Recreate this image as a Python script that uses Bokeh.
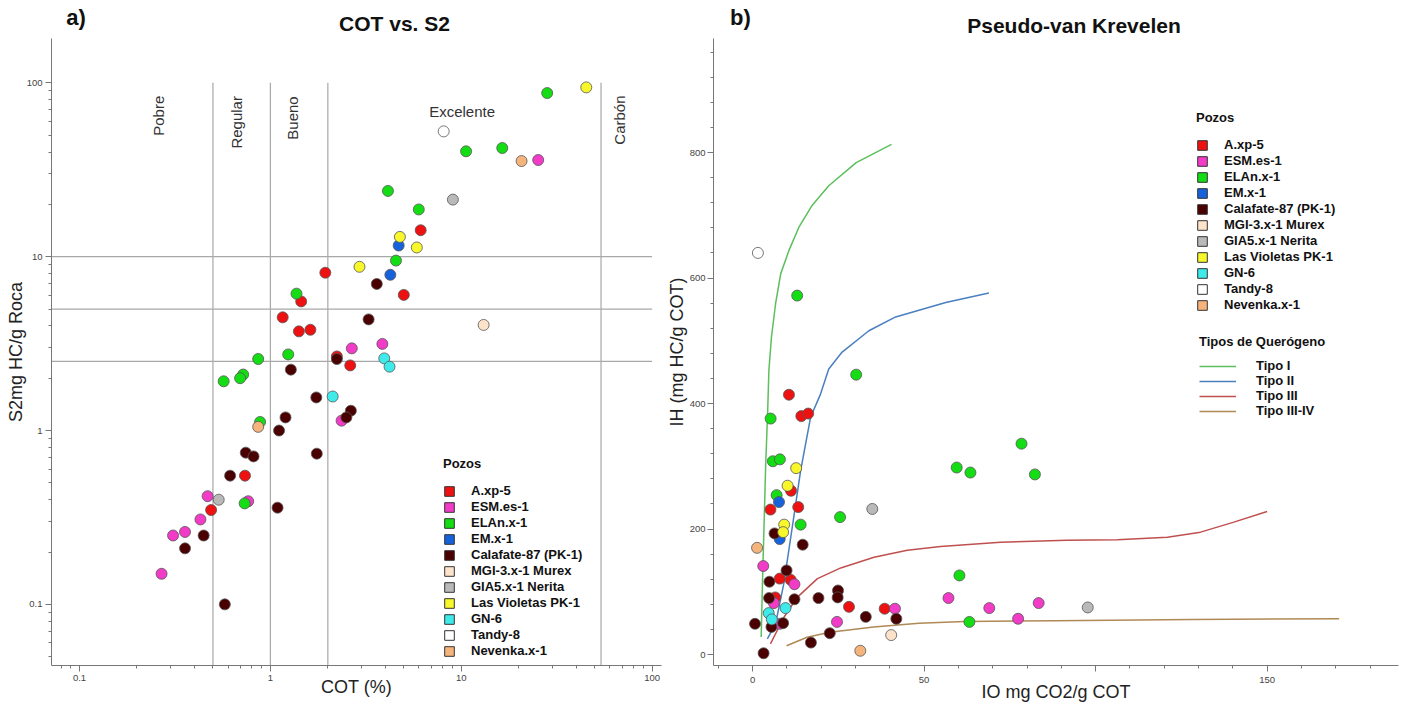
import math
from bokeh.plotting import figure
from bokeh.layouts import row, column
from bokeh.models import (Range1d, Legend, LegendItem, CustomJSTickFormatter,
                          SingleIntervalTicker)
from bokeh.embed import file_html
from bokeh.resources import INLINE
from bokeh.core.properties import value

FONT = "Liberation Sans"

# ---------------- wells (legend order) ----------------
wells = ["A.xp-5", "ESM.es-1", "ELAn.x-1", "EM.x-1", "Calafate-87 (PK-1)",
         "MGI-3.x-1 Murex", "GIA5.x-1 Nerita", "Las Violetas PK-1", "GN-6",
         "Tandy-8", "Nevenka.x-1"]
well_colors = ["#ee1111", "#f23cc8", "#14dd14", "#1662dc", "#4a0000",
               "#fde3c9", "#b9b9b9", "#f7f72c", "#3eeaea", "#ffffff", "#f5b47c"]

# ---------------- a) COT (%) vs S2 (mg HC/g roca) ----------------
cot_axp5 = [1.94, 6.13, 5.0, 1.16, 1.45, 1.41, 1.62, 2.23, 2.62, 0.736, 0.489]
s2_axp5 = [8.09, 14.2, 6.03, 4.48, 5.53, 3.72, 3.80, 2.67, 2.37, 0.55, 0.349]
cot_esm = [25.3, 3.86, 2.67, 2.36, 0.469, 0.765, 0.43, 0.357, 0.309, 0.269]
s2_esm = [36.0, 3.15, 2.97, 1.14, 0.419, 0.392, 0.308, 0.261, 0.249, 0.15]
cot_elan = [28.2, 16.4, 10.6, 4.13, 5.99, 4.55, 1.37, 1.24, 0.863, 0.72, 0.694, 0.569, 0.883, 0.733]
s2_elan = [87.4, 42.2, 40.4, 23.9, 18.7, 9.5, 6.13, 2.74, 2.58, 2.10, 2.0, 1.92, 1.12, 0.381]
cot_em = [4.7, 4.25]
s2_em = [11.6, 7.87]
cot_cal = [3.61, 3.27, 2.23, 1.28, 1.74, 2.64, 2.5, 1.2, 1.11, 0.743, 0.816, 1.75, 0.615, 1.09, 0.447, 0.357, 0.577]
s2_cal = [6.97, 4.36, 2.58, 2.24, 1.55, 1.30, 1.19, 1.19, 1.0, 0.746, 0.71, 0.736, 0.55, 0.36, 0.249, 0.21, 0.1]
cot_mgi = [13.1]
s2_mgi = [4.05]
cot_gia = [9.04, 0.536]
s2_gia = [21.3, 0.40]
cot_lv = [45.2, 4.77, 5.85, 2.93]
s2_lv = [94.2, 13.0, 11.3, 8.75]
cot_gn = [3.95, 4.21, 2.12]
s2_gn = [2.6, 2.33, 1.57]
cot_tandy = [8.09]
s2_tandy = [52.6]
cot_nev = [20.7, 0.863]
s2_nev = [35.5, 1.05]

cot_classes = [0.5, 1, 2, 54]          # limits Pobre/Regular/Bueno/Excelente/Carbón
s2_levels = [2.5, 5, 10]
class_names = ["Pobre", "Regular", "Bueno", "Excelente", "Carbón"]

# ---------------- b) Pseudo-van Krevelen: IO vs IH ----------------
io_axp5 = [10.6, 14.2, 16.2, 11.2, 13.3, 5.2, 7.9, 11.1, 6.6, 28.1, 38.5]
ih_axp5 = [414, 380, 384, 261, 235, 231, 121, 119, 91, 76, 73]
io_esm = [3.1, 12.2, 6.2, 8.0, 24.6, 41.5, 57.1, 69.0, 77.4, 83.4]
ih_esm = [141, 112, 82, 49, 52, 73, 90, 74, 57, 82]
io_elan = [13.0, 30.2, 5.25, 5.9, 7.96, 7.0, 14.0, 25.5, 78.4, 59.5, 63.5, 82.3, 60.3, 63.2]
ih_elan = [572, 446, 376, 308, 311, 254, 207, 219, 336, 298, 290, 287, 126, 52]
io_em = [7.7, 7.9]
ih_em = [243, 184]
io_cal = [6.4, 14.6, 9.9, 4.9, 4.8, 12.2, 19.2, 24.9, 24.8, 33.0, 41.9, 0.7, 5.5, 8.9, 22.5, 17.0, 3.2]
ih_cal = [193, 175, 134, 116, 90, 88, 90, 102, 91, 60, 57, 49, 44, 50, 34, 19, 2]
io_mgi = [40.4]
ih_mgi = [31]
io_gia = [34.9, 97.7]
ih_gia = [232, 75]
io_lv = [12.7, 10.2, 9.2, 8.9]
ih_lv = [297, 269, 207, 195]
io_gn = [9.6, 4.7, 5.6]
ih_gn = [74, 66, 56]
io_tandy = [1.55]
ih_tandy = [640]
io_nev = [1.3, 31.4]
ih_nev = [170, 6]

# kerogen type curves
kero_names = ["Tipo I", "Tipo II", "Tipo III", "Tipo III-IV"]
kero_colors = ["#5cbf5c", "#4a7fc0", "#c05050", "#b08a55"]
io_t1 = [2.5, 2.9, 3.3, 3.8, 4.4, 4.75, 5.5, 6.7, 8.2, 10.6, 13.5, 17.4, 22.2, 30.2, 40.5]
ih_t1 = [28, 120, 198, 300, 389, 453, 506, 559, 607, 644, 681, 716, 747, 784, 813]
io_t2 = [4.3, 6.7, 9.1, 12, 14, 16.9, 19.8, 22.2, 26.1, 33.9, 41.7, 56.3, 68.9]
ih_t2 = [25, 49, 113, 219, 293, 378, 415, 455, 482, 516, 538, 561, 576]
io_t3 = [5.2, 9.1, 13, 18.9, 25.7, 35.4, 45.1, 54.8, 72.3, 91.7, 106.3, 120.9, 130.6, 140.3, 150]
ih_t3 = [17, 59, 91, 121, 138, 155, 166, 172, 179, 182, 183, 187, 195, 211, 228]
io_t34 = [9.9, 15.9, 22.5, 35.3, 48.5, 61.8, 88.3, 128, 171]
ih_t34 = [14, 27.6, 35.6, 44, 50, 52.6, 54, 55.8, 57]

cot_series = [(cot_axp5, s2_axp5), (cot_esm, s2_esm), (cot_elan, s2_elan), (cot_em, s2_em),
              (cot_cal, s2_cal), (cot_mgi, s2_mgi), (cot_gia, s2_gia), (cot_lv, s2_lv),
              (cot_gn, s2_gn), (cot_tandy, s2_tandy), (cot_nev, s2_nev)]
pvk_series = [(io_axp5, ih_axp5), (io_esm, ih_esm), (io_elan, ih_elan), (io_em, ih_em),
              (io_cal, ih_cal), (io_mgi, ih_mgi), (io_gia, ih_gia), (io_lv, ih_lv),
              (io_gn, ih_gn), (io_tandy, ih_tandy), (io_nev, ih_nev)]
kero_series = [(io_t1, ih_t1), (io_t2, ih_t2), (io_t3, ih_t3), (io_t34, ih_t34)]

AXIS_COLOR = "#777777"
W1, W2 = 663, 742
TITLE_H = 38
MAIN_H = 667


def style_axis(ax, label_standoff, axis_standoff):
    ax.axis_line_color = AXIS_COLOR
    ax.major_tick_line_color = AXIS_COLOR
    ax.minor_tick_line_color = AXIS_COLOR
    ax.major_tick_in = 0
    ax.major_tick_out = 6
    ax.minor_tick_in = 0
    ax.minor_tick_out = 3
    ax.major_label_text_font = FONT
    ax.major_label_text_font_size = "9.5px"
    ax.major_label_text_color = "#444444"
    ax.major_label_standoff = label_standoff
    ax.axis_label_text_font = FONT
    ax.axis_label_text_font_size = "18px"
    ax.axis_label_text_font_style = "normal"
    ax.axis_label_text_color = "#222222"
    ax.axis_label_standoff = axis_standoff


def make_legend(items, loc, title, glyph_w, standoff, spacing, title_standoff):
    return Legend(items=items, location=loc, title=title,
                  orientation="vertical", padding=0, margin=0, spacing=spacing,
                  glyph_width=glyph_w, glyph_height=12, label_height=12,
                  label_standoff=standoff, title_standoff=title_standoff,
                  label_text_font=FONT, label_text_font_size="13px",
                  label_text_font_style="bold", label_text_color="#111111",
                  title_text_font=FONT, title_text_font_size="13px",
                  title_text_font_style="bold", title_text_color="#111111",
                  background_fill_alpha=0, border_line_alpha=0)


def title_strip(width, letter, letter_x, letter_y, title, title_x, title_y):
    t = figure(width=width, height=TITLE_H, x_range=Range1d(0, width), y_range=Range1d(0, TITLE_H),
               output_backend="svg", toolbar_location=None, title=None,
               x_axis_location=None, y_axis_location=None, min_border=0)
    t.outline_line_color = None
    t.xgrid.visible = False
    t.ygrid.visible = False
    t.text(x=[letter_x], y=[letter_y], text=[letter], text_align="center", text_baseline="middle",
           text_font=value(FONT), text_font_size="22px", text_font_style="bold", text_color="#111111")
    t.text(x=[title_x], y=[title_y], text=[title], text_align="center", text_baseline="middle",
           text_font=value(FONT), text_font_size="21px", text_font_style="bold", text_color="#111111")
    return t


# ======================= figure a) =======================
x_lo, x_hi = 0.0713, 112
y_lo, y_hi = 0.0445, 180
p1 = figure(width=W1, height=MAIN_H, x_axis_type="log", y_axis_type="log",
            x_range=Range1d(x_lo, x_hi), y_range=Range1d(y_lo, y_hi),
            output_backend="svg", toolbar_location=None, title=None,
            min_border_left=51, min_border_right=2, min_border_top=0, min_border_bottom=40,
            x_axis_label="COT (%)", y_axis_label="S2mg HC/g Roca")
p1.outline_line_color = None
p1.xgrid.visible = False
p1.ygrid.visible = False
p1.xaxis[0].formatter = CustomJSTickFormatter(code="return String(Number(tick.toPrecision(6)));")
p1.yaxis[0].formatter = CustomJSTickFormatter(code="return String(Number(tick.toPrecision(6)));")
style_axis(p1.xaxis[0], 3, -7)
style_axis(p1.yaxis[0], 3, -2)

# classification lines
p1.segment(x0=cot_classes, y0=[y_lo] * len(cot_classes), x1=cot_classes, y1=[100] * len(cot_classes),
           line_color="#a8a8a8", line_width=1.2)
p1.segment(x0=[x_lo] * len(s2_levels), y0=s2_levels, x1=[100] * len(s2_levels), y1=s2_levels,
           line_color="#a8a8a8", line_width=1.2)

# class names
p1.text(x=[0.258, 0.662, 1.309, 10.1, 67.3], y=[64.7, 59.3, 62.8, 68.2, 61.1],
        text=class_names, angle=[math.pi / 2, math.pi / 2, math.pi / 2, 0, math.pi / 2],
        text_align="center", text_baseline="middle", text_font=value(FONT),
        text_font_size="15px", text_color="#333333")

for (xs, ys), c in zip(cot_series, well_colors):
    p1.scatter(xs, ys, marker="circle", size=11, fill_color=c, line_color="#555555", line_width=0.8)

items1 = []
for w, c in zip(wells, well_colors):
    # one zero-size quad outside the visible range, only to give the legend its swatch
    r = p1.quad(left=[1e4], right=[1e4], top=[1e4], bottom=[1e4],
                fill_color=c, line_color="#333333", line_width=1)
    items1.append(LegendItem(label=w, renderers=[r]))
p1.add_layout(make_legend(items1, (392, 7), "Pozos", 12, 16, 1, 12))

# ======================= figure b) =======================
p2 = figure(width=W2, height=MAIN_H,
            x_range=Range1d(-11.4, 188.3), y_range=Range1d(-17.5, 981.7),
            output_backend="svg", toolbar_location=None, title=None,
            min_border_left=50, min_border_right=7, min_border_top=0, min_border_bottom=40,
            x_axis_label="IO mg CO2/g COT", y_axis_label="IH (mg HC/g COT)")
p2.outline_line_color = None
p2.xgrid.visible = False
p2.ygrid.visible = False
p2.xaxis[0].ticker = SingleIntervalTicker(interval=50, num_minor_ticks=5)
p2.yaxis[0].ticker = SingleIntervalTicker(interval=200, num_minor_ticks=5)
p2.xaxis[0].major_label_overrides = {100: ""}
style_axis(p2.xaxis[0], 5, -4)
style_axis(p2.yaxis[0], 2, 0)

kero_renderers = []
for (xs, ys), c in zip(kero_series, kero_colors):
    kero_renderers.append(p2.line(xs, ys, line_color=c, line_width=1.5))

for (xs, ys), c in zip(pvk_series, well_colors):
    p2.scatter(xs, ys, marker="circle", size=11, fill_color=c, line_color="#555555", line_width=0.8)

items2 = []
for w, c in zip(wells, well_colors):
    r = p2.quad(left=[1e4], right=[1e4], top=[1e5], bottom=[1e5],
                fill_color=c, line_color="#333333", line_width=1)
    items2.append(LegendItem(label=w, renderers=[r]))
p2.add_layout(make_legend(items2, (483, 353), "Pozos", 12, 16, 1, 12))

items3 = [LegendItem(label=n, renderers=[r]) for n, r in zip(kero_names, kero_renderers)]
p2.add_layout(make_legend(items3, (486, 247), "Tipos de Querógeno", 37, 20, 0, 9))

# ======================= titles =======================
t1 = title_strip(W1, "a)", 75.5, 21.3, "COT vs. S2", 394, 14.7)
t2 = title_strip(W2, "b)", 77, 21, "Pseudo-van Krevelen", 410.5, 13)

layout = column(row(t1, t2), row(p1, p2))
open("out.html", "w").write(file_html(layout, INLINE))
